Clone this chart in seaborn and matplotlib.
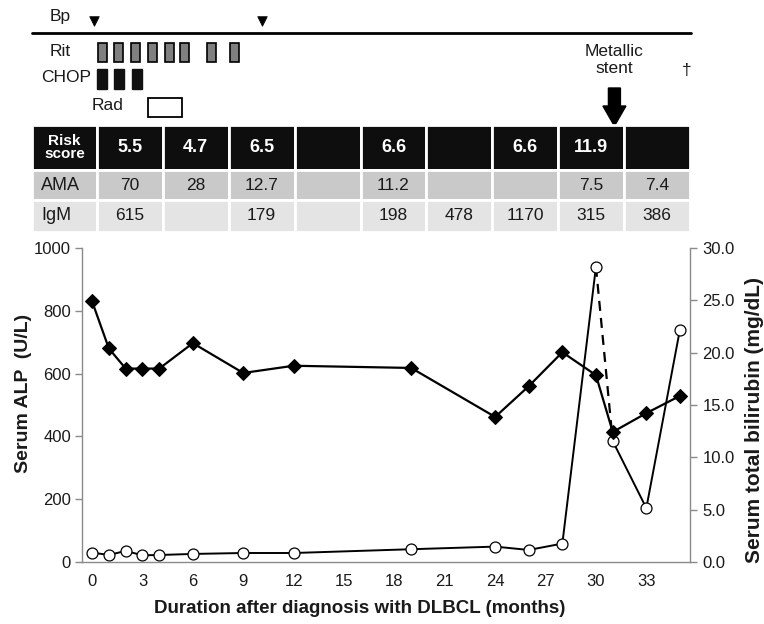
import numpy as np
import pandas as pd
import matplotlib
matplotlib.use("Agg")
import matplotlib.pyplot as plt
import seaborn as sns
from matplotlib.patches import Rectangle, FancyArrow
from matplotlib.lines import Line2D
from matplotlib.table import Table
from matplotlib.ticker import FormatStrFormatter

sns.set_theme(style="ticks")
plt.rcParams["font.family"] = ["Liberation Sans", "DejaVu Sans"]

# ---------------- data ----------------
alp_months = [0, 1, 2, 3, 4, 6, 9, 12, 19, 24, 26, 28, 30, 31, 33, 35]
alp_values = [830, 680, 616, 616, 616, 697, 602, 625, 618, 462, 560, 668, 595, 414, 474, 529]

bili_months = [0, 1, 2, 3, 4, 6, 9, 12, 19, 24, 26, 28, 30, 31, 33, 35]
bili_values = [0.9, 0.67, 1.06, 0.64, 0.67, 0.77, 0.86, 0.86, 1.22, 1.47, 1.15, 1.76,
               28.2, 11.55, 5.15, 22.2]
stent_segment = (30, 31)          # bilirubin segment drawn dashed

bp_months = [0.1, 10.1]
rit_months = [0.6, 1.6, 2.6, 3.6, 4.6, 5.5, 7.1, 8.5]
chop_months = [0.6, 1.6, 2.65]
rad_start, rad_end = 3.3, 5.35
stent_month = 31.1
death_month = 35.4

row_labels = ["Risk\nscore", "AMA", "IgM"]
risk_scores = ["5.5", "4.7", "6.5", "", "6.6", "", "6.6", "11.9", ""]
ama_values = ["70", "28", "12.7", "", "11.2", "", "", "7.5", "7.4"]
igm_values = ["615", "", "179", "", "198", "478", "1170", "315", "386"]

x_ticks = list(range(0, 34, 3))
alp_ticks = list(range(0, 1001, 200))
bili_ticks = list(range(0, 31, 5))

# ---------------- figure ----------------
W, H = 764, 624
fig = plt.figure(figsize=(W / 100, H / 100), dpi=100)
fig.patch.set_facecolor("white")


def fx(p):
    return p / W


def fy(p):
    return 1 - p / H


SPINE = "#8a8a8a"
TXT = "#1a1a1a"

ax = fig.add_axes([fx(82), fy(562), fx(690) - fx(82), fy(248) - fy(562)])
ax2 = ax.twinx()

bili_df = pd.DataFrame({"month": bili_months, "bili": bili_values})
s0, s1 = stent_segment
seg_a = bili_df[bili_df.month <= s0]
seg_b = bili_df[(bili_df.month >= s0) & (bili_df.month <= s1)]
seg_c = bili_df[bili_df.month >= s1]

sns.lineplot(data=seg_a, x="month", y="bili", ax=ax2, color="black", linewidth=1.4,
             sort=False, estimator=None)
sns.lineplot(data=seg_c, x="month", y="bili", ax=ax2, color="black", linewidth=1.4,
             sort=False, estimator=None)
sns.lineplot(data=seg_b, x="month", y="bili", ax=ax2, color="black", linewidth=1.6,
             linestyle=(0, (4.5, 3.2)), sort=False, estimator=None)
sns.scatterplot(data=bili_df, x="month", y="bili", ax=ax2, marker="o", s=62,
                facecolor="white", edgecolor="black", linewidth=0.9, zorder=5)

alp_df = pd.DataFrame({"month": alp_months, "alp": alp_values})
sns.lineplot(data=alp_df, x="month", y="alp", ax=ax, color="black", linewidth=1.6,
             marker="D", markersize=7, markeredgecolor="black", sort=False, estimator=None)

ax.set_zorder(ax2.get_zorder() + 1)
ax.patch.set_visible(False)

ax.set_xlim(-0.6, 35.6)
ax.set_ylim(0, 1000)
ax2.set_ylim(0, 30)
ax.set_xticks(x_ticks)
ax.set_yticks(alp_ticks)
ax2.set_yticks(bili_ticks)
ax2.yaxis.set_major_formatter(FormatStrFormatter("%.1f"))

for s in ["top", "right"]:
    ax.spines[s].set_visible(False)
for s in ["top", "left", "bottom"]:
    ax2.spines[s].set_visible(False)
for sp in [ax.spines["left"], ax.spines["bottom"], ax2.spines["right"]]:
    sp.set_color(SPINE)
    sp.set_linewidth(1.0)

ax.tick_params(axis="x", length=0, pad=9, labelsize=12, labelcolor=TXT)
ax.tick_params(axis="y", direction="out", length=5, width=1, color=SPINE, pad=3,
               labelsize=12, labelcolor=TXT)
ax2.tick_params(axis="y", direction="out", length=5, width=1, color=SPINE, pad=4,
                labelsize=12, labelcolor=TXT)

ax.set_xlabel("Duration after diagnosis with DLBCL (months)", fontsize=13.5,
              fontweight="bold", color=TXT)
ax.xaxis.set_label_coords(0.457, -0.122)
ax.set_ylabel("Serum ALP  (U/L)", fontsize=14, fontweight="bold", color=TXT)
ax.yaxis.set_label_coords(-0.082, 0.538)
ax2.set_ylabel("Serum total bilirubin (mg/dL)", fontsize=15, fontweight="bold", color=TXT)
ax2.yaxis.set_label_coords(1.09, 0.452)

# ---------------- treatment timeline ----------------
ax_top = fig.add_axes([fx(82), fy(125), fx(690) - fx(82), fy(0) - fy(125)])
ax_top.set_xlim(-0.6, 35.6)
ax_top.set_ylim(125, 0)
ax_top.axis("off")

sns.scatterplot(x=bp_months, y=[21] * len(bp_months), ax=ax_top, marker="v", s=48,
                color="black", edgecolor="black", linewidth=0.5)

for m in rit_months:
    ax_top.add_patch(Rectangle((m - 0.27, 43), 0.54, 19, facecolor="#7f7f7f",
                               edgecolor="black", linewidth=1.2))
for m in chop_months:
    ax_top.add_patch(Rectangle((m - 0.3, 69), 0.6, 20, facecolor="#111111",
                               edgecolor="#111111", linewidth=1.0))
ax_top.add_patch(Rectangle((rad_start, 98), rad_end - rad_start, 19, facecolor="white",
                           edgecolor="black", linewidth=1.3))

ax_top.text(stent_month, 60, "Metallic\nstent", ha="center", va="center", fontsize=12.5,
            color=TXT, linespacing=1.15)
ax_top.add_patch(FancyArrow(stent_month, 88, 0, 38, width=12 / 16.8, head_width=23 / 16.8,
                            head_length=20, length_includes_head=True, color="black",
                            clip_on=False))
ax_top.text(death_month, 70, "\u2020", ha="center", va="center", fontsize=12.5, color=TXT)

fig.add_artist(Line2D([fx(32), fx(691)], [fy(33), fy(33)], color="black", linewidth=2))
fig.text(fx(60), fy(17), "Bp", ha="center", va="center", fontsize=12.5, color=TXT)
fig.text(fx(60), fy(51), "Rit", ha="center", va="center", fontsize=12.5, color=TXT)
fig.text(fx(66), fy(78), "CHOP", ha="center", va="center", fontsize=12.5, color=TXT)
fig.text(fx(108), fy(106), "Rad", ha="center", va="center", fontsize=12.5, color=TXT)

# ---------------- table ----------------
ax_tbl = fig.add_axes([fx(32), fy(232), fx(690) - fx(32), fy(125) - fy(232)])
ax_tbl.axis("off")
tbl = Table(ax_tbl, bbox=[0, 0, 1, 1])
tbl.auto_set_font_size(False)
col_w = [65] + [66] * len(risk_scores)
row_h = [45, 30, 32]
row_colors = ["#0e0e0e", "#c9c9c9", "#e4e4e4"]
rows = [risk_scores, ama_values, igm_values]
for r, (lab, vals) in enumerate(zip(row_labels, rows)):
    cells = [lab] + list(vals)
    for c, txt in enumerate(cells):
        loc = "left" if (c == 0 and r > 0) else "center"
        cell = tbl.add_cell(r, c, width=col_w[c], height=row_h[r], text=txt, loc=loc,
                            facecolor=row_colors[r], edgecolor="white")
        cell.set_linewidth(2)
        if loc == "left":
            cell.PAD = 0.14
        t = cell.get_text()
        if r == 0:
            t.set_color("white")
            t.set_fontweight("bold")
            t.set_fontsize(11 if c == 0 else 13)
            t.set_linespacing(0.95)
        else:
            t.set_color(TXT)
            t.set_fontsize(12.5 if c else 13)
ax_tbl.add_table(tbl)

fig.savefig("out.png", dpi=100, facecolor="white")
